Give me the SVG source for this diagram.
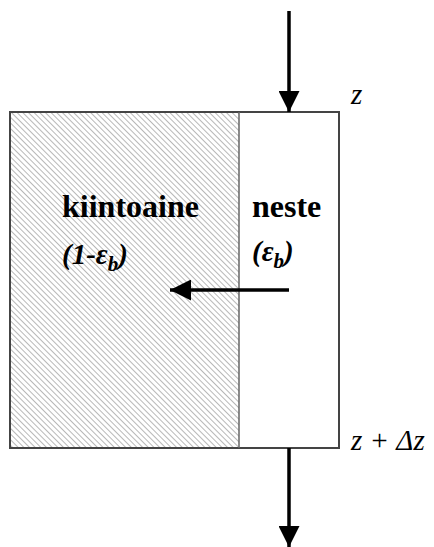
<svg xmlns="http://www.w3.org/2000/svg" width="434" height="547" viewBox="0 0 434 547">
<style>
.lbl{font-family:'Liberation Serif','DejaVu Serif',serif;font-weight:bold;font-size:32px;fill:#000}
.it{font-family:'Liberation Serif','DejaVu Serif',serif;font-style:italic;font-size:29px;fill:#000}
.flow{stroke:#000;stroke-width:3.5;fill:none}
</style>
<defs>
<pattern id="hatch" patternUnits="userSpaceOnUse" width="4" height="4" patternTransform="rotate(-45)">
<rect width="4" height="4" fill="#fff"/>
<line x1="0" y1="0" x2="0" y2="4" stroke="#b8b8b8" stroke-width="2"/>
</pattern>
<marker id="ah" viewBox="0 0 10 10" refX="10" refY="5" markerWidth="6.3" markerHeight="6" markerUnits="strokeWidth" orient="auto">
<path d="M0,0 L10,5 L0,10 Z" fill="#000"/>
</marker>
</defs>
<g id="solid">
<rect x="10" y="112" width="229" height="336" fill="url(#hatch)"/>
<text class="lbl" x="62" y="217">kiintoaine</text>
<text class="it" x="62" y="264" font-weight="bold">(1-ε<tspan font-size="21" dy="7">b</tspan><tspan dy="-7">)</tspan></text>
</g>
<g id="liquid">
<rect x="239" y="112" width="100" height="336" fill="#fff"/>
<text class="lbl" x="252" y="217">neste</text>
<text class="it" x="252" y="261" font-weight="bold">(ε<tspan font-size="21" dy="7">b</tspan><tspan dy="-7">)</tspan></text>
</g>
<g id="frame">
<rect x="10" y="112" width="329" height="336" fill="none" stroke="#444" stroke-width="2"/>
<line x1="239" y1="112" x2="239" y2="448" stroke="#666" stroke-width="1.5"/>
</g>
<g id="labels">
<text class="it" x="351" y="104">z</text>
<text class="it" x="351" y="450">z + Δz</text>
</g>
<g id="connectors">
<line class="flow" x1="289" y1="11" x2="289" y2="112" marker-end="url(#ah)"/>
<line class="flow" x1="289" y1="448" x2="289" y2="547" marker-end="url(#ah)"/>
<line class="flow" x1="289" y1="290" x2="170" y2="290" marker-end="url(#ah)"/>
</g>
</svg>
